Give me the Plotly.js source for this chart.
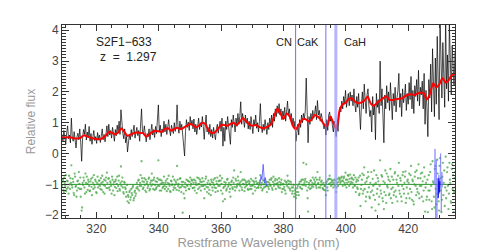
<!DOCTYPE html>
<html>
<head>
<meta charset="utf-8">
<script src="https://cdn.plot.ly/plotly-3.0.1.min.js"></script>
<style>html,body{margin:0;padding:0;background:#fff;}#chart{width:491px;height:250px;}</style>
</head>
<body>
<div id="chart"></div>
<script>
// ---- data ----
const wlStart = 309.0;       // first pixel of the spectrum (nm)
const wlStep = 0.3;          // spectral sampling (nm)
const wlStart2 = 309.15;     // interleaved residual pixels (nm)

const flux = [
.62,.41,.75,.55,.30,.68,.90,.48,.60,.35,
1.15,.52,.40,.71,.28,.18,.55,.66,.45,.80,
.37,-.25,.50,.78,.62,.95,.44,.70,.52,.88,
.40,.65,.30,.58,.75,.42,.55,.33,.68,.47,
.60,.36,.52,.80,.45,.62,.38,.72,.90,.55,
.95,.60,.75,.50,.85,.66,.40,.78,.58,.92,
.70,1.05,.62,1.42,.85,.66,.48,.80,.35,.55,
.05,.30,.62,.45,.78,.55,.72,.92,.50,.66,
.85,.58,.75,.40,.82,1.45,.70,.62,.90,.48,
.38,.65,.55,.80,.45,.72,.95,.60,.78,.52,
.88,.65,1.0,1.58,.70,.92,.55,.80,.68,1.05,
.70,.95,.62,.88,1.10,.75,.58,.92,.80,.65,
1.0,.72,.90,1.58,.85,.66,1.05,.78,.95,.60,
.40,-.08,.72,1.10,.85,1.02,.75,1.20,.92,1.08,
.80,1.12,.70,.95,.62,.88,1.15,.78,1.0,.86,
1.20,.88,.46,.92,1.25,.70,.85,.62,.95,.55,
.78,.50,.85,.62,.45,.80,.95,.66,.88,1.05,
.72,1.15,.24,.85,.40,1.05,.78,1.20,.90,.68,
.30,1.10,.85,1.25,.92,.70,1.15,.88,1.30,.95,
1.20,1.68,.95,1.30,1.10,.85,1.25,.98,1.15,.80,
1.05,.78,1.20,.88,.65,1.10,.92,1.25,.82,1.0,
.70,1.05,1.62,.90,.68,.95,.75,1.10,.85,.62,
1.0,.78,1.15,.92,1.25,.85,1.30,1.05,1.45,1.20,
1.55,1.30,1.62,1.25,1.45,1.10,1.38,1.20,1.50,1.05,
1.35,1.70,1.25,1.45,1.10,1.30,.95,1.15,.85,1.05,
.40,.72,.95,.60,1.10,.85,1.25,1.0,1.30,1.12,
1.40,2.45,.90,.35,1.20,.95,1.30,1.05,1.40,1.15,
1.30,1.55,1.10,1.72,1.25,1.40,1.05,1.30,1.15,.95,
.80,.95,.60,1.10,.75,1.25,1.35,1.05,1.20,.90,
.70,1.05,.85,.55,.95,.72,1.20,1.50,1.35,1.70,
1.45,1.85,1.60,2.05,1.50,1.80,1.95,1.55,2.00,1.70,
1.90,1.55,2.10,1.60,1.35,1.85,1.50,1.95,1.25,.78,
1.60,2.00,1.45,2.25,1.75,1.30,1.90,2.10,1.55,1.20,
1.40,.70,1.85,1.25,1.60,.45,1.95,1.50,1.75,1.30,
3.00,1.55,2.10,1.20,.35,1.90,1.45,2.20,1.65,2.00,
1.40,2.30,1.60,1.10,1.95,1.55,2.15,1.35,1.80,2.05,
2.60,1.50,1.95,1.20,2.10,1.65,1.85,2.25,1.40,1.95,
1.60,2.30,1.75,2.50,1.45,2.05,1.30,2.20,1.85,2.40,
1.70,2.70,1.55,2.15,1.90,2.35,1.45,2.60,.95,2.05,
1.50,.55,2.40,1.80,2.90,1.35,3.40,2.10,1.20,3.10,
1.60,3.80,2.20,1.10,4.40,2.60,1.80,3.60,2.30,1.50,
4.50,2.10,3.20,1.70,4.20,2.50,1.90,3.50,2.80,2.20,
3.30];

const residual = [
-1.05,-.85,-1.25,-.95,-.70,-1.15,-.90,-1.30,-1.0,-.80,
-.38,-1.10,-.92,-1.35,-.75,-1.05,-1.20,-.88,-.60,-1.15,
-1.40,-1.85,-.95,-.78,-1.10,-.65,-1.25,-.98,-.85,-1.05,
-1.20,-.82,-1.35,-.95,-.70,-1.10,-.90,-1.28,-.75,-1.0,
-.88,-1.15,-.96,-.72,-1.25,-.85,-1.05,-.78,-.62,-1.12,
-.80,-1.18,-.95,-1.30,-.85,-1.0,-1.35,-.90,-1.12,-.75,
-1.05,-.72,-1.20,-.42,-.90,-1.10,-1.30,-.95,-1.15,-1.25,
-1.55,-1.40,-1.25,-1.50,-1.15,-1.35,-1.05,-1.45,-1.20,-1.30,
-.95,-1.15,-.85,-1.05,-.70,-.25,-.90,-1.10,-.80,-1.20,
-1.25,-.92,-1.05,-.78,-1.15,-.88,-.65,-1.0,-.85,-1.18,
-.90,-1.10,-.80,-.22,-1.05,-.85,-1.20,-.95,-1.08,-.75,
-1.15,-.88,-1.22,-.95,-.72,-1.05,-1.25,-.90,-1.0,-1.18,
-.85,-1.12,-.95,-.40,-1.05,-1.20,-.82,-1.10,-.92,-1.92,
-1.30,-1.45,-1.10,-.85,-1.05,-.90,-1.15,-.78,-.98,-.88,
-1.12,-.85,-1.20,-.95,-1.28,-1.0,-.80,-1.10,-.92,-1.05,
-.80,-1.05,-1.45,-1.02,-.75,-1.25,-1.10,-1.30,-.98,-1.35,
-.92,-1.20,-.85,-1.10,-1.25,-.90,-.78,-1.05,-.88,-.72,
-1.20,-.80,-1.55,-1.08,-1.48,-.95,-1.15,-.82,-1.02,-1.25,
-1.40,-.92,-1.10,-.78,-.55,-1.20,-.88,-1.05,-.75,-1.0,
-.95,-.60,-1.10,-.85,-1.0,-1.22,-.88,-1.05,-.92,-1.18,
-.98,-1.15,-.82,-1.05,-1.30,-.90,-1.08,-.80,-1.12,-.95,
-1.10,-.95,-.70,-1.02,-1.20,-.88,-1.10,-.95,-1.05,-1.25,
-.92,-1.15,-.85,-1.05,-.80,-1.18,-.75,-.98,-.82,-1.0,
-.85,-1.05,-.80,-1.12,-.95,-1.25,-1.0,-1.15,-.88,-1.30,
-.95,-.72,-1.10,-.90,-1.20,-1.0,-1.30,-1.10,-1.40,-1.20,
-1.45,-1.25,-1.05,-1.35,-.92,-1.12,-.85,-1.02,-.30,-.95,
-.82,-.35,-1.20,-1.88,-.95,-1.15,-.88,-1.05,-.78,-1.0,
-.98,-.78,-1.12,-.60,-.95,-.85,-1.10,-.92,-1.0,-1.15,
-1.18,-1.05,-1.35,-.90,-1.20,-.82,-.72,-.95,-.85,-1.0,
-1.10,-.85,-1.05,-1.25,-.95,-1.05,-.78,-.82,-.90,-.75,
-1.05,-.80,-.95,-.62,-1.10,-.85,-.72,-1.05,-.68,-.92,
-.82,-1.10,-.70,-1.05,-1.25,-.85,-1.15,-.78,-1.30,-1.70,
-1.02,-.65,-1.20,-.45,-.95,-1.40,-.80,-.60,-1.10,-1.45,
-1.25,-1.75,-.82,-1.35,-1.0,-1.85,-.70,-1.15,-.90,-1.40,
-.22,-1.30,-.75,-1.55,-1.80,-.95,-1.35,-.65,-1.10,-.85,
-1.30,-.50,-1.15,-1.60,-.85,-1.25,-.60,-1.40,-.95,-.72,
-.30,-1.30,-.88,-1.55,-.70,-1.15,-.95,-.58,-1.45,-.90,
-1.30,-.65,-1.15,-.40,-1.50,-.90,-1.65,-.75,-1.05,-.55,
-1.25,-.35,-1.45,-.80,-1.05,-.62,-1.55,-.45,-1.88,-.95,
-1.40,-1.90,-.70,-1.20,-.35,-1.55,-.25,-.95,-1.75,-.40,
-1.65,-.20,-1.05,-1.85,-.15,-.80,-1.50,-.30,-.95,-1.70,
-.10,-1.20,-.45,-1.80,-.30,-.95,-1.60,-.35,-.70,-1.25,
-.60];

const residual2 = [
-.92,-1.18,-.78,-1.05,-1.22,-.88,-1.10,-.72,-1.15,-.95,
-1.02,-.82,-1.28,-.65,-1.08,-1.40,-.90,-1.12,-.98,-.78,
-1.15,-1.75,-1.02,-.88,-1.30,-.95,-.75,-1.18,-.92,-1.22,
-.90,-1.08,-.78,-1.15,-1.02,-.85,-1.25,-.95,-1.10,-.88,
-1.05,-.80,-1.18,-.92,-1.02,-1.30,-.88,-1.12,-.95,-.82,
-1.10,-.90,-1.05,-.75,-1.20,-.92,-1.08,-.85,-.98,-1.22,
-.88,-1.15,-.95,-1.05,-.78,-1.25,-.92,-1.10,-1.40,-1.02,
-1.35,-1.60,-1.20,-1.42,-1.28,-1.10,-1.52,-1.25,-1.38,-1.12,
-1.08,-.88,-1.20,-.95,-1.05,-.80,-1.15,-.92,-1.02,-.85,
-.98,-1.12,-.82,-1.20,-.95,-1.05,-.88,-1.15,-.78,-1.02,
-1.15,-.92,-1.05,-.85,-1.20,-.98,-.88,-1.12,-.95,-1.05,
-.95,-1.08,-.82,-1.15,-.98,-1.22,-.88,-1.02,-.75,-1.10,
-1.02,-.90,-1.18,-.85,-.98,-1.10,-.80,-1.25,-1.05,-.92,
-1.08,-.95,-1.20,-1.02,-.88,-1.15,-.92,-1.05,-.85,-1.12,
-.95,-1.10,-.88,-1.02,-.78,-1.15,-.98,-.85,-1.20,-.92,
-1.05,-.90,-1.15,-.82,-1.08,-.95,-.88,-1.18,-1.02,-.85,
-1.10,-.95,-1.02,-.80,-1.12,-.98,-1.22,-.90,-1.05,-.88,
-.98,-1.30,-1.12,-.92,-1.05,-1.20,-.85,-1.08,-.95,-1.15,
-1.02,-.88,-1.15,-.95,-1.08,-.82,-1.10,-.98,-.88,-1.20,
-1.05,-.90,-1.18,-.98,-.85,-1.10,-.95,-1.02,-1.15,-.88,
-.92,-1.05,-1.15,-.88,-1.02,-.95,-1.20,-.90,-.98,-1.10,
-1.02,-.88,-1.10,-.95,-1.15,-1.00,-.85,-1.08,-.92,-1.05,
-1.08,-.95,-1.02,-.85,-1.12,-.92,-1.05,-.88,-1.15,-.98,
-.95,-1.10,-.92,-1.02,-.85,-1.15,-.98,-1.08,-1.20,-.92,
-1.05,-.88,-.98,-1.15,-.92,-1.10,-1.22,-1.02,-1.30,-1.15,
-1.35,-1.12,-1.25,-.98,-1.08,-.90,-1.15,-.85,-1.02,-.88,
-1.05,-.92,-1.45,-1.10,-1.02,-.88,-1.12,-.95,-1.08,-.85,
-.92,-1.05,-.85,-.98,-1.10,-.78,-1.02,-.88,-1.12,-.95,
-1.05,-1.20,-.95,-1.10,-.85,-.98,-.82,-1.05,-.92,-.88,
-.95,-1.02,-.88,-1.10,-.82,-.92,-.85,-.95,-.78,-.88,
-.90,-.75,-1.02,-.85,-.95,-.70,-.92,-.82,-.98,-.78,
-.95,-.85,-1.02,-.78,-.92,-1.10,-.88,-1.35,-.72,-1.15,
-.85,-1.30,-.70,-1.15,-1.55,-.90,-1.25,-.75,-1.40,-.95,
-.60,-1.20,-1.05,-.55,-1.50,-.95,-1.30,-.80,-1.65,-1.05,
-1.20,-.70,-1.45,-.90,-1.25,-.55,-1.60,-1.05,-.75,-1.35,
-.90,-1.45,-.75,-1.10,-1.35,-.65,-1.20,-.85,-1.55,-1.05,
-1.20,-.80,-1.40,-1.05,-.60,-1.30,-.75,-1.60,-1.10,-.85,
-.95,-1.45,-.70,-1.25,-.85,-1.55,-1.00,-.60,-1.35,-1.15,
-.80,-1.30,-1.05,-.65,-1.40,-.90,-1.20,-.75,-1.10,-1.50,
-.85,-1.20,-1.50,-.60,-1.05,-1.80,-.90,-1.40,-.50,-1.15,
-1.30,-.65,-1.55,-.40,-1.20,-1.90,-.75,-1.35,-.55,-1.10,
-1.45,-.60,-1.05,-1.30,-.85,-1.55,-.50,-1.15,-1.90,-.80,
-1.10];

const modelWl = [309,310,311,312,313,314,315,316,317,318,319,320,321,322,323,324,325,326,327,328,329,330,331,332,333,334,335,336,337,338,339,340,341,342,343,344,345,346,347,348,349,350,351,352,353,354,355,356,357,358,359,360,361,362,363,364,365,366,367,368,369,370,371,372,373,374,375,376,377,378,379,380,381,382,383,384,385,386,387,388,389,390,391,392,393,394,395,396,397,398,399,400,401,402,403,404,405,406,407,408,409,410,411,412,413,414,415,416,417,418,419,420,421,422,423,424,425,426,427,428,429,430,431,432,433,434,435];
const model = [.51,.52,.53,.52,.49,.49,.52,.59,.56,.52,.49,.47,.46,.50,.58,.70,.68,.62,.68,.82,.70,.57,.62,.66,.68,.67,.66,.55,.62,.70,.73,.72,.71,.80,.82,.74,.80,.84,.79,.84,.90,.96,.92,.85,.92,1.00,.95,.75,.67,.69,.80,.92,.93,.90,.96,.99,.93,1.03,1.15,1.05,.95,.90,.93,.88,.83,.83,.88,.95,1.20,1.45,1.30,1.12,1.30,1.20,.90,.79,.95,1.10,1.12,1.05,1.10,1.25,1.20,1.10,.95,.88,1.20,1.00,.80,1.40,1.60,1.65,1.78,1.78,1.68,1.63,1.66,1.72,1.85,1.62,1.55,1.65,1.72,1.80,1.86,1.74,1.74,1.76,1.78,1.79,1.86,1.91,1.92,1.90,1.95,1.97,1.96,1.75,1.95,2.28,2.15,2.25,2.45,2.30,2.38,2.55,2.60];

const zeroWl = [309, 435];
const zeroLevel = [-1, -1];

const sky1Wl = [372.4,372.8,373.1,373.3,373.5,373.7,373.9,374.2,374.6];
const sky1Val = [-1.0,-0.72,-0.85,-0.55,-0.35,-0.62,-0.95,-0.78,-1.05];
const sky2Wl = [428.4,428.6,428.8,429.0,429.2,429.4,429.6,429.8,430.0,430.2,430.4,430.6,430.8,431.0];
const sky2Val = [-1.0,0.15,-2.1,-0.2,-2.1,-0.8,-1.4,-0.7,-1.3,-0.9,0.0,-1.9,-0.6,-1.1];
const sky2CoreWl = [429.6,429.8,430.0,430.2];
const sky2CoreVal = [-1.45,-0.8,-1.25,-0.9];

const lineWl = [383.9, 393.6, 396.8];
const lineNames = ["CN", "CaK", "CaH"];
const objectName = "S2F1\u2212633";
const redshiftText = "z\u00a0\u00a0=\u00a0\u00a01.297";

// ---- build ----
const wl = flux.map((_, i) => +(wlStart + i * wlStep).toFixed(2));
const wl2 = residual2.map((_, i) => +(wlStart2 + i * wlStep).toFixed(2));

const greenMarker = {color: 'rgba(70,165,70,0.75)', size: 2.3};
const traces = [
  {x: wl, y: residual, type: 'scatter', mode: 'markers', marker: greenMarker},
  {x: wl2, y: residual2, type: 'scatter', mode: 'markers', marker: greenMarker},
  {x: zeroWl, y: zeroLevel, type: 'scatter', mode: 'lines',
   line: {color: 'rgb(40,150,40)', width: 1}},
  {x: sky1Wl, y: sky1Val, type: 'scatter', mode: 'lines',
   line: {color: 'rgba(80,80,255,0.8)', width: 1}},
  {x: sky2Wl, y: sky2Val, type: 'scatter', mode: 'lines',
   line: {color: 'rgba(110,110,255,0.6)', width: 1}},
  {x: sky2CoreWl, y: sky2CoreVal, type: 'scatter', mode: 'lines',
   line: {color: 'rgb(20,20,230)', width: 1.2}},
  {x: wl, y: flux, type: 'scatter', mode: 'lines',
   line: {color: 'rgba(0,0,0,0.82)', width: 0.85}},
  {x: modelWl, y: model, type: 'scatter', mode: 'lines',
   line: {color: 'rgb(255,0,0)', width: 2, shape: 'spline', smoothing: 0.6}}
];

const shapes = lineWl.map((w, i) => ({
  type: 'line', xref: 'x', yref: 'paper', x0: w, x1: w, y0: 0, y1: 1,
  line: i === 2 ? {color: 'rgba(150,150,255,0.7)', width: 3}
                : {color: 'rgb(110,110,255)', width: 1}
}));

const labelX = [0.564, 0.627, 0.746];
const annotations = lineNames.map((n, i) => ({
  text: n, xref: 'paper', yref: 'paper', x: labelX[i], y: 0.912,
  showarrow: false, xanchor: 'center', yanchor: 'middle',
  font: {family: 'Liberation Sans, Arial, sans-serif', size: 11, color: '#222'}
}));
annotations.push({text: objectName, xref: 'paper', yref: 'paper', x: 0.158, y: 0.912,
  showarrow: false, xanchor: 'center', yanchor: 'middle',
  font: {family: 'Liberation Sans, Arial, sans-serif', size: 12, color: '#222'}});
annotations.push({text: redshiftText, xref: 'paper', yref: 'paper', x: 0.170, y: 0.834,
  showarrow: false, xanchor: 'center', yanchor: 'middle',
  font: {family: 'Liberation Sans, Arial, sans-serif', size: 12, color: '#222'}});

const axFont = {family: 'Liberation Sans, Arial, sans-serif', size: 12, color: '#444'};
const layout = {
  width: 491, height: 250,
  margin: {l: 62, r: 36, t: 25, b: 32, pad: 0},
  paper_bgcolor: '#fff', plot_bgcolor: '#fff',
  showlegend: false,
  xaxis: {range: [309, 435], dtick: 20, tick0: 300, ticks: 'inside', ticklen: 6,
    tickcolor: '#333', mirror: 'ticks', showline: true, linecolor: '#333', linewidth: 1,
    showgrid: false, zeroline: false, tickfont: axFont,
    minor: {dtick: 5, ticks: 'inside', ticklen: 3, tickcolor: '#333', showgrid: false},
    title: {text: 'Restframe Wavelength (nm)', standoff: 2,
      font: {family: 'Liberation Sans, Arial, sans-serif', size: 13, color: '#999'}}},
  yaxis: {range: [-2.09, 4.17], dtick: 1, ticks: 'inside', ticklen: 7,
    tickcolor: '#333', mirror: 'ticks', showline: true, linecolor: '#333', linewidth: 1,
    showgrid: false, zeroline: false, tickfont: axFont,
    minor: {dtick: 0.1, ticks: 'inside', ticklen: 3.5, tickcolor: '#333', showgrid: false},
    title: {text: 'Relative flux', standoff: 6,
      font: {family: 'Liberation Sans, Arial, sans-serif', size: 12, color: '#999'}}},
  shapes: shapes,
  annotations: annotations
};

Plotly.newPlot('chart', traces, layout, {displayModeBar: false, staticPlot: true});
</script>
</body>
</html>
